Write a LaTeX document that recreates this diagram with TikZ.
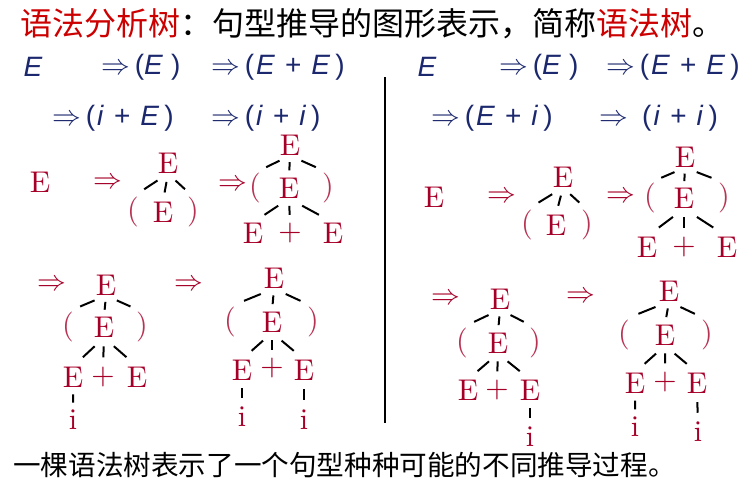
\documentclass[tikz,border=0pt]{standalone}
\usepackage{fontspec}
\newfontfamily\cjk{Noto Sans CJK SC}
\newfontfamily\formfont{Liberation Sans}
\newfontfamily\treefont[Extension=.otf]{lmroman10-regular}
\usetikzlibrary{calc}
\definecolor{titlered}{RGB}{204,0,0}
\definecolor{treered}{RGB}{166,0,40}
\definecolor{formblue}{RGB}{28,40,110}
\tikzset{
  sym/.style={inner sep=0pt, text=treered, font=\treefont\fontsize{15}{15}\selectfont},
  paren/.style={sym, text=treered!80},
  arr/.style={inner sep=0pt, text=treered, font=\fontsize{14.5}{14.5}\selectfont},
  stub/.style={line width=1pt},
  form/.style={inner sep=0pt, anchor=west, text=formblue, font=\formfont\fontsize{14}{14}\selectfont},
}
\begin{document}
\begin{tikzpicture}[x=0.5pt,y=-0.5pt]
\useasboundingbox (0,0) rectangle (745,489);
\node[anchor=west, inner sep=0pt, font=\cjk\fontsize{16}{16}\selectfont] (title) at (20,24)
  {\textcolor{titlered}{语法分析树}：句型推导的图形表示，简称\textcolor{titlered}{语法树}。};
\node[anchor=west, inner sep=0pt, font=\cjk\fontsize{13.8}{14}\selectfont] (note) at (13,465)
  {一棵语法树表示了一个句型种种可能的不同推导过程。};

\node[form, anchor=center] (l0) at (33,67) {\textit{E}};
\node[form] (l1) at (101,67) {$\Rightarrow$\,(\textit{E}\hspace{4pt})};
\node[form] (l2) at (211,67) {$\Rightarrow$\,(\kern1pt\textit{E}\hspace{5pt}+\hspace{5pt}\textit{E}\hspace{2.5pt})};
\node[form] (l3) at (52,118) {$\Rightarrow$\,(\kern1pt\textit{i}\hspace{5pt}+\hspace{5pt}\textit{E}\hspace{2.5pt})};
\node[form] (l4) at (211,118) {$\Rightarrow$\,(\kern1pt\textit{i}\hspace{5pt}+\hspace{5pt}\textit{i}\hspace{2.5pt})};
\node[form, anchor=center] (r0) at (427,67) {\textit{E}};
\node[form] (r1) at (499,67) {$\Rightarrow$\,(\textit{E}\hspace{4pt})};
\node[form] (r2) at (606,67) {$\Rightarrow$\,(\kern1pt\textit{E}\hspace{5pt}+\hspace{5pt}\textit{E}\hspace{2.5pt})};
\node[form] (r3) at (431,118) {$\Rightarrow$\,(\kern1pt\textit{E}\hspace{5pt}+\hspace{5pt}\textit{i}\hspace{2.5pt})};
\node[form] (r4) at (599,118) {$\Rightarrow$\hspace{7pt}(\kern1pt\textit{i}\hspace{5pt}+\hspace{5pt}\textit{i}\hspace{2.5pt})};

\draw[line width=0.7pt] (385,77) -- (385,423);

\node[sym] (s1) at (40,182) {E};
\node[arr] (t1) at (108,183) {$\Rightarrow$};
\node[sym] (a) at (168,163) {E};
\node[paren] (a1) at (133,212) {(};
\node[sym] (a2) at (163,212) {E};
\node[paren] (a3) at (193,212) {)};
\node[arr] (t2) at (233,185) {$\Rightarrow$};
\node[sym] (b) at (290,145) {E};
\node[paren] (b1) at (255,188) {(};
\node[sym] (b2) at (289,188) {E};
\node[paren] (b3) at (328,188) {)};
\node[sym] (b4) at (253,233) {E};
\node[sym] (b5) at (290,233) {+};
\node[sym] (b6) at (333,233) {E};

\node[arr] (t3) at (52,285) {$\Rightarrow$};
\node[sym] (c) at (106,285) {E};
\node[paren] (c1) at (68,327) {(};
\node[sym] (c2) at (104,327) {E};
\node[paren] (c3) at (142,327) {)};
\node[sym] (c4) at (73,377) {E};
\node[sym] (c5) at (103,377) {+};
\node[sym] (c6) at (137,377) {E};
\node[sym] (c7) at (73,420) {i};
\node[arr] (t4) at (189,285) {$\Rightarrow$};
\node[sym] (d) at (274,278) {E};
\node[paren] (d1) at (230,322) {(};
\node[sym] (d2) at (272,322) {E};
\node[paren] (d3) at (313,322) {)};
\node[sym] (d4) at (242,370) {E};
\node[sym] (d5) at (272,368) {+};
\node[sym] (d6) at (304,370) {E};
\node[sym] (d7) at (242,417) {i};
\node[sym] (d8) at (304,420) {i};

\node[sym] (s2) at (434,197) {E};
\node[arr] (t5) at (502,197) {$\Rightarrow$};
\node[sym] (e) at (563,177) {E};
\node[paren] (e1) at (527,225) {(};
\node[sym] (e2) at (556,225) {E};
\node[paren] (e3) at (587,225) {)};
\node[arr] (t6) at (621,197) {$\Rightarrow$};
\node[sym] (f) at (685,157) {E};
\node[paren] (f1) at (650,198) {(};
\node[sym] (f2) at (684,198) {E};
\node[paren] (f3) at (724,198) {)};
\node[sym] (f4) at (647,247) {E};
\node[sym] (f5) at (684,247) {+};
\node[sym] (f6) at (727,247) {E};

\node[arr] (t7) at (446,299) {$\Rightarrow$};
\node[sym] (g) at (500,299) {E};
\node[paren] (g1) at (462,343) {(};
\node[sym] (g2) at (498,343) {E};
\node[paren] (g3) at (535,343) {)};
\node[sym] (g4) at (468,390) {E};
\node[sym] (g5) at (497,390) {+};
\node[sym] (g6) at (530,390) {E};
\node[sym] (g7) at (530,437) {i};
\node[arr] (t8) at (581,297) {$\Rightarrow$};
\node[sym] (h) at (669,291) {E};
\node[paren] (h1) at (624,335) {(};
\node[sym] (h2) at (665,335) {E};
\node[paren] (h3) at (707,335) {)};
\node[sym] (h4) at (635,383) {E};
\node[sym] (h5) at (665,382) {+};
\node[sym] (h6) at (697,383) {E};
\node[sym] (h7) at (635,427) {i};
\node[sym] (h8) at (698,432) {i};

\foreach \p/\c in {a/a1,a/a2,a/a3, b/b1,b/b2,b/b3,b2/b4,b2/b5,b2/b6,
                   c/c1,c/c2,c/c3,c2/c4,c2/c5,c2/c6,c4/c7,
                   d/d1,d/d2,d/d3,d2/d4,d2/d5,d2/d6,d4/d7,d6/d8,
                   e/e1,e/e2,e/e3, f/f1,f/f2,f/f3,f2/f4,f2/f5,f2/f6,
                   g/g1,g/g2,g/g3,g2/g4,g2/g5,g2/g6,g6/g7,
                   h/h1,h/h2,h/h3,h2/h4,h2/h5,h2/h6,h4/h7,h6/h8}
  \draw[stub] ($(\p.south)!.3!(\c.north)$) -- ($(\p.south)!.68!(\c.north)$);
\end{tikzpicture}
\end{document}
